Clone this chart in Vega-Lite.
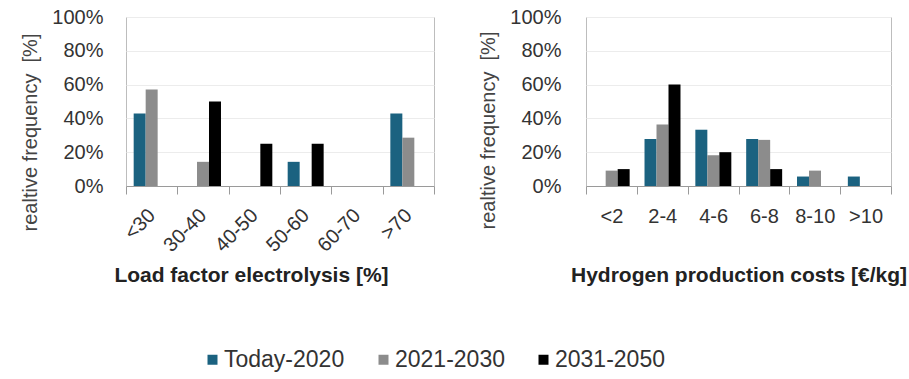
{
  "$schema": "https://vega.github.io/schema/vega-lite/v6.json",
  "background": "white",
  "padding": {"left": 19, "top": 6, "right": 5, "bottom": 5},
  "spacing": 42,
  "config": {
    "font": "Liberation Sans",
    "view": {"stroke": "#bdbdbd", "strokeWidth": 1},
    "axis": {"labelColor": "#333333", "titleColor": "#222222", "labelFont": "Liberation Sans", "titleFont": "Liberation Sans"},
    "axisY": {"grid": true, "gridColor": "#ececec", "domain": false, "ticks": false, "tickSize": 0, "labelFontSize": 20, "titleFontSize": 20, "titleFontWeight": "normal", "titleColor": "#444444", "titleAngle": -90, "titleAlign": "center", "titleBaseline": "middle"},
    "axisX": {"grid": false, "domainColor": "#9a9a9a", "tickColor": "#9a9a9a", "tickSize": 8, "tickBand": "extent", "labelFontSize": 20, "titleFontSize": 21, "titleFontWeight": "bold", "titleBaseline": "alphabetic", "titleY": 95}
  },
  "datasets": {
    "load": [
      {"category": "<30", "period": "Today-2020", "value": 42.9},
      {"category": "<30", "period": "2021-2030", "value": 57.1},
      {"category": "30-40", "period": "2021-2030", "value": 14.3},
      {"category": "30-40", "period": "2031-2050", "value": 50},
      {"category": "40-50", "period": "2031-2050", "value": 25},
      {"category": "50-60", "period": "Today-2020", "value": 14.3},
      {"category": "50-60", "period": "2031-2050", "value": 25},
      {"category": ">70", "period": "Today-2020", "value": 42.9},
      {"category": ">70", "period": "2021-2030", "value": 28.6}
    ],
    "cost": [
      {"category": "<2", "period": "2021-2030", "value": 9.1},
      {"category": "<2", "period": "2031-2050", "value": 10},
      {"category": "2-4", "period": "Today-2020", "value": 27.8},
      {"category": "2-4", "period": "2021-2030", "value": 36.4},
      {"category": "2-4", "period": "2031-2050", "value": 60},
      {"category": "4-6", "period": "Today-2020", "value": 33.3},
      {"category": "4-6", "period": "2021-2030", "value": 18.2},
      {"category": "4-6", "period": "2031-2050", "value": 20},
      {"category": "6-8", "period": "Today-2020", "value": 27.8},
      {"category": "6-8", "period": "2021-2030", "value": 27.3},
      {"category": "6-8", "period": "2031-2050", "value": 10},
      {"category": "8-10", "period": "Today-2020", "value": 5.6},
      {"category": "8-10", "period": "2021-2030", "value": 9.1},
      {"category": ">10", "period": "Today-2020", "value": 5.6}
    ]
  },
  "hconcat": [
    {
      "width": 308,
      "height": 169,
      "data": {"name": "load"},
      "mark": {"type": "bar"},
      "encoding": {
        "x": {
          "field": "category", "type": "nominal",
          "scale": {"domain": ["<30", "30-40", "40-50", "50-60", "60-70", ">70"], "paddingInner": 0, "paddingOuter": 0},
          "axis": {"title": "Load factor electrolysis [%]", "labelAngle": -45, "labelAlign": "right", "labelBaseline": "middle", "labelPadding": 18, "titleX": 125, "titleAlign": "center"}
        },
        "xOffset": {
          "field": "period", "type": "nominal",
          "scale": {"domain": ["Today-2020", "2021-2030", "2031-2050"], "paddingInner": 0, "paddingOuter": 0.64}
        },
        "y": {
          "field": "value", "type": "quantitative",
          "scale": {"domain": [0, 100]},
          "axis": {"values": [0, 20, 40, 60, 80, 100], "labelExpr": "datum.value + '%'", "labelPadding": 23, "title": "realtive frequency\u00a0 [%]", "titleX": -96, "titleY": 115}
        },
        "color": {
          "field": "period", "type": "nominal",
          "scale": {"domain": ["Today-2020", "2021-2030", "2031-2050"], "range": ["#1b6280", "#8c8c8c", "#000000"]},
          "legend": {"orient": "none", "legendX": 75, "legendY": 331, "direction": "horizontal", "title": null, "symbolType": "square", "symbolSize": 100, "symbolStrokeWidth": 0, "labelFontSize": 23, "labelColor": "#333333", "columnPadding": 27, "labelOffset": 0}
        }
      }
    },
    {
      "width": 305,
      "height": 169,
      "data": {"name": "cost"},
      "mark": {"type": "bar"},
      "encoding": {
        "x": {
          "field": "category", "type": "nominal",
          "scale": {"domain": ["<2", "2-4", "4-6", "6-8", "8-10", ">10"], "paddingInner": 0, "paddingOuter": 0},
          "axis": {"title": "Hydrogen production costs [€/kg]", "labelAngle": 0, "labelAlign": "center", "labelBaseline": "top", "labelPadding": 12}
        },
        "xOffset": {
          "field": "period", "type": "nominal",
          "scale": {"domain": ["Today-2020", "2021-2030", "2031-2050"], "paddingInner": 0, "paddingOuter": 0.62}
        },
        "y": {
          "field": "value", "type": "quantitative",
          "scale": {"domain": [0, 100]},
          "axis": {"values": [0, 20, 40, 60, 80, 100], "labelExpr": "datum.value + '%'", "labelPadding": 25, "title": "realtive frequency\u00a0 [%]", "titleX": -98, "titleY": 113}
        },
        "color": {
          "field": "period", "type": "nominal",
          "scale": {"domain": ["Today-2020", "2021-2030", "2031-2050"], "range": ["#1b6280", "#8c8c8c", "#000000"]},
          "legend": {"orient": "none", "legendX": 75, "legendY": 331, "direction": "horizontal", "title": null, "symbolType": "square", "symbolSize": 100, "symbolStrokeWidth": 0, "labelFontSize": 23, "labelColor": "#333333", "columnPadding": 27, "labelOffset": 0}
        }
      }
    }
  ]
}
